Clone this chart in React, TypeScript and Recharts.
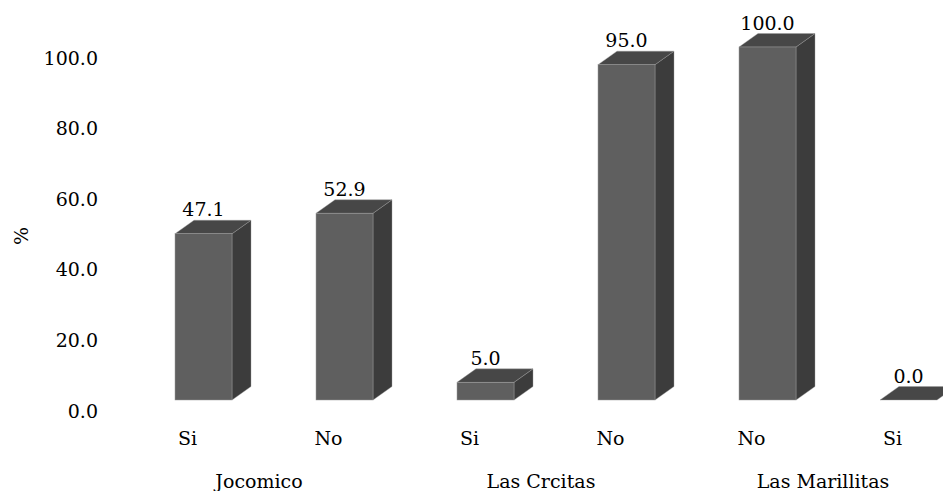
import React from 'react';
import { BarChart, Bar, XAxis, YAxis } from 'recharts';

const categories = ['Si', 'No', 'Si', 'No', 'No', 'Si'];
const groups = ['Jocomico', 'Jocomico', 'Las Crcitas', 'Las Crcitas', 'Las Marillitas', 'Las Marillitas'];
const values = [47.1, 52.9, 5.0, 95.0, 100.0, 0.0];
const yTicks = [0, 20, 40, 60, 80, 100];

const data = categories.map((c, i) => ({ key: i, cat: c, group: groups[i], value: values[i] }));

const FS = 19;
const DX = 19;
const DY = 13.5;
const SHIFT = 36;
const txt = { fontFamily: "'DejaVu Serif', serif", fontSize: FS, fill: '#000' } as React.CSSProperties;

const Bar3D = (props: any) => {
  const { x, y, width, height, payload } = props;
  const fx = x + SHIFT;
  const w = width;
  const h = Math.max(0, height || 0);
  const top = y;
  const bottom = y + h;
  const edge = '#9a9a9a';
  return (
    <g>
      {h > 0 && (
        <polygon
          points={`${fx + w},${top} ${fx + w + DX},${top - DY} ${fx + w + DX},${bottom - DY} ${fx + w},${bottom}`}
          fill="#3c3c3c"
          stroke={edge}
          strokeWidth={0.4}
        />
      )}
      <polygon
        points={`${fx},${top} ${fx + DX},${top - DY} ${fx + w + DX},${top - DY} ${fx + w},${top}`}
        fill="#474747"
        stroke={edge}
        strokeWidth={0.4}
      />
      {h > 0 && <rect x={fx} y={top} width={w} height={h} fill="#5f5f5f" stroke={edge} strokeWidth={0.5} />}
      <text x={fx + w / 2} y={top - DY - 4} textAnchor="middle" style={txt}>
        {Number(payload.value).toFixed(1)}
      </text>
    </g>
  );
};

const XTick = (props: any) => {
  const { x, y, payload } = props;
  const i = payload.value as number;
  return (
    <g>
      <text x={x + 20} y={y + 45} textAnchor="middle" style={txt}>
        {categories[i]}
      </text>
      {i % 2 === 0 && (
        <text x={x + 91.5} y={y + 88} textAnchor="middle" style={txt}>
          {groups[i]}
        </text>
      )}
    </g>
  );
};

const YTick = (props: any) => {
  const { x, y, payload } = props;
  return (
    <text x={x + 1} y={y + 17.5} textAnchor="end" style={txt}>
      {Number(payload.value).toFixed(1)}
    </text>
  );
};

export default function App() {
  return (
    <div style={{ position: 'absolute', left: 0, top: 0, width: 943, height: 491, background: '#fff' }}>
      <BarChart width={943} height={491} data={data} margin={{ top: 47, right: 0, bottom: 0, left: 0 }}>
        <XAxis dataKey="key" type="category" axisLine={false} tickLine={false} tickSize={0} tickMargin={0} height={91} interval={0} tick={<XTick />} />
        <YAxis type="number" domain={[0, 100]} ticks={yTicks} axisLine={false} tickLine={false} tickSize={0} tickMargin={0} width={97} tick={<YTick />} />
        <Bar dataKey="value" barSize={57} isAnimationActive={false} shape={<Bar3D />} />
        <text x={21} y={236} transform="rotate(-90 21 236)" textAnchor="middle" dominantBaseline="central" style={txt}>
          %
        </text>
      </BarChart>
    </div>
  );
}
